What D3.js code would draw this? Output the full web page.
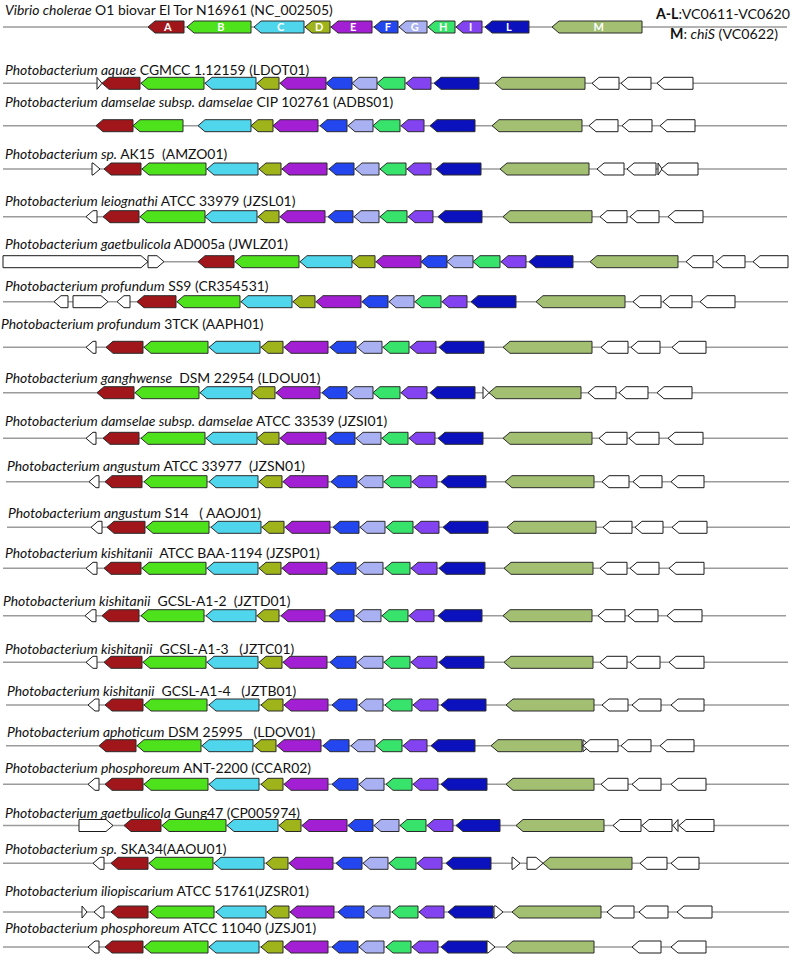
<!DOCTYPE html>
<html><head><meta charset="utf-8">
<script src="https://cdn.jsdelivr.net/npm/d3@7"></script>
<style>body{margin:0;background:#fff} svg{display:block}</style>
</head><body><svg id="c" width="792" height="966"></svg>
<script>
// ---------- DATA ----------
const geneKeys   = ["A","B","C","D","E","F","G","H","I","L","M","w"];
const geneColors = ["#a0161a","#4ee21c","#4fd6ec","#9fb31a","#a21fd3","#2346ef","#a9b1f2","#37e36a","#8443f1","#0b12bd","#a2bf72","#ffffff"];

const italicNames = [
 "Vibrio cholerae","Photobacterium aquae","Photobacterium damselae subsp. damselae","Photobacterium sp.",
 "Photobacterium leiognathi","Photobacterium gaetbulicola","Photobacterium profundum","Photobacterium profundum",
 "Photobacterium ganghwense","Photobacterium damselae subsp. damselae","Photobacterium angustum","Photobacterium angustum",
 "Photobacterium kishitanii","Photobacterium kishitanii","Photobacterium kishitanii","Photobacterium kishitanii",
 "Photobacterium aphoticum","Photobacterium phosphoreum","Photobacterium gaetbulicola","Photobacterium sp.",
 "Photobacterium iliopiscarium","Photobacterium phosphoreum"];
const strainNames = [
 " O1 biovar El Tor N16961 (NC_002505)"," CGMCC 1.12159 (LDOT01)"," CIP 102761 (ADBS01)"," AK15  (AMZO01)",
 " ATCC 33979 (JZSL01)"," AD005a (JWLZ01)"," SS9 (CR354531)"," 3TCK (AAPH01)",
 "  DSM 22954 (LDOU01)"," ATCC 33539 (JZSI01)"," ATCC 33977  (JZSN01)"," S14   ( AAOJ01)",
 "  ATCC BAA-1194 (JZSP01)","  GCSL-A1-2  (JZTD01)","  GCSL-A1-3   (JZTC01)","  GCSL-A1-4   (JZTB01)",
 " DSM 25995   (LDOV01)"," ANT-2200 (CCAR02)"," Gung47 (CP005974)"," SKA34(AAOU01)",
 " ATCC 51761(JZSR01)"," ATCC 11040 (JZSJ01)"];

// contig extents per row [start, end]
const spans = [[3,787],[3,787],[3,787],[3,787],[3,787],[3,788],[3,788],[3,788],[3,788],[3,788],[6,789],
               [7,790],[3,788],[3,786],[3,788],[6,789],[6,789],[3,789],[3,789],[3,789],[3,789],[3,789]];

// genes: [key, start, end, strand]
const gVibrio = [["A",148,184,"<"],["B",187,251,"<"],["C",254,304,"<"],["D",305,330,"<"],["E",331,372,"<"],["F",374,398,"<"],["G",399,427,"<"],["H",428,455,"<"],["I",456,482,"<"],["L",485,529,"<"],["M",552,642,"<"]];
const gAquae = [["w",97,102,">"],["A",102,140,"<"],["B",141,204,"<"],["C",205,256,"<"],["D",257,279,"<"],["E",280,326,"<"],["F",326,352,"<"],["G",352,377,"<"],["H",377,405,"<"],["I",406,431,"<"],["L",434,479,"<"],["M",495,585,"<"],["w",592,619,"<"],["w",621,651,"<"],["w",657,693,"<"]];
const gDamselaeCIP = [["A",96,133,"<"],["B",133,183,"<"],["C",198,251,"<"],["D",251,273,"<"],["E",273,318,"<"],["F",320,347,"<"],["G",348,373,"<"],["H",373,400,"<"],["I",401,424,"<"],["L",430,475,"<"],["M",492,582,"<"],["w",589,618,"<"],["w",622,652,"<"],["w",660,695,"<"]];
const gAK15 = [["w",92,100,">"],["A",104,141,"<"],["B",142,206,"<"],["C",207,258,"<"],["D",259,281,"<"],["E",282,327,"<"],["F",329,354,"<"],["G",355,379,"<"],["H",380,406,"<"],["I",407,431,"<"],["L",436,481,"<"],["M",500,589,"<"],["w",597,624,"<"],["w",627,656,"<"],["w",658,662,">"],["w",661,698,"<"]];
const gLeiognathi = [["w",86,97,"<"],["A",103,139,"<"],["B",140,205,"<"],["C",205,257,"<"],["D",258,279,"<"],["E",280,325,"<"],["F",328,353,"<"],["G",354,379,"<"],["H",380,407,"<"],["I",408,433,"<"],["L",438,482,"<"],["M",503,592,"<"],["w",600,627,"<"],["w",630,659,"<"],["w",668,703,"<"]];
const gGaetAD005a = [["w",3,148,">"],["w",148,164,">"],["A",198,234,"<"],["B",235,299,"<"],["C",300,352,"<"],["D",352,375,"<"],["E",376,421,"<"],["F",421,447,"<"],["G",447,473,"<"],["H",473,500,"<"],["I",501,526,"<"],["L",529,573,"<"],["M",590,678,"<"],["w",686,713,"<"],["w",716,745,"<"],["w",753,788,"<"]];
const gSS9 = [["w",54,68,"<"],["w",73,108,">"],["w",117,130,"<"],["A",137,176,"<"],["B",177,240,"<"],["C",241,292,"<"],["D",293,315,"<"],["E",316,361,"<"],["F",362,388,"<"],["G",389,414,"<"],["H",415,441,"<"],["I",442,467,"<"],["L",471,516,"<"],["M",536,625,"<"],["w",633,661,"<"],["w",663,692,"<"],["w",700,735,"<"]];
const g3TCK = [["w",86,96,"<"],["A",106,143,"<"],["B",144,208,"<"],["C",209,260,"<"],["D",261,283,"<"],["E",284,328,"<"],["F",330,356,"<"],["G",357,382,"<"],["H",383,409,"<"],["I",410,436,"<"],["L",439,484,"<"],["M",503,592,"<"],["w",601,628,"<"],["w",631,660,"<"],["w",672,706,"<"]];
const gGanghwense = [["A",97,134,"<"],["B",135,199,"<"],["C",200,252,"<"],["D",252,275,"<"],["E",276,320,"<"],["F",322,347,"<"],["G",348,373,"<"],["H",373,400,"<"],["I",401,427,"<"],["L",430,475,"<"],["w",483,489,">"],["M",489,581,"<"],["w",588,616,"<"],["w",619,648,"<"],["w",657,692,"<"]];
const gDamselaeATCC = [["w",86,96,"<"],["A",103,139,"<"],["B",141,205,"<"],["C",206,257,"<"],["D",257,279,"<"],["E",280,326,"<"],["F",328,355,"<"],["G",356,381,"<"],["H",382,408,"<"],["I",409,435,"<"],["L",438,483,"<"],["M",503,592,"<"],["w",599,627,"<"],["w",629,659,"<"],["w",668,703,"<"]];
const gAngustumATCC = [["w",89,99,"<"],["A",105,142,"<"],["B",144,207,"<"],["C",209,258,"<"],["D",259,282,"<"],["E",283,328,"<"],["F",331,357,"<"],["G",358,383,"<"],["H",384,411,"<"],["I",412,437,"<"],["L",441,486,"<"],["M",505,594,"<"],["w",602,629,"<"],["w",633,662,"<"],["w",671,704,"<"]];
const gS14 = [["w",91,102,"<"],["A",107,145,"<"],["B",146,209,"<"],["C",211,261,"<"],["D",262,284,"<"],["E",285,330,"<"],["F",333,359,"<"],["G",360,385,"<"],["H",386,413,"<"],["I",414,439,"<"],["L",443,488,"<"],["M",507,596,"<"],["w",603,632,"<"],["w",635,663,"<"],["w",672,707,"<"]];
const gBAA1194 = [["w",86,97,"<"],["A",104,141,"<"],["B",142,206,"<"],["C",207,258,"<"],["D",259,281,"<"],["E",282,327,"<"],["F",330,356,"<"],["G",357,383,"<"],["H",385,410,"<"],["I",411,437,"<"],["L",439,485,"<"],["M",504,593,"<"],["w",600,627,"<"],["w",630,659,"<"],["w",669,704,"<"]];
const gA12 = [["w",85,96,"<"],["A",102,139,"<"],["B",141,204,"<"],["C",206,256,"<"],["D",257,279,"<"],["E",281,325,"<"],["F",329,354,"<"],["G",356,381,"<"],["H",382,408,"<"],["I",409,434,"<"],["L",438,482,"<"],["M",503,592,"<"],["w",598,625,"<"],["w",628,658,"<"],["w",667,702,"<"]];
const gA13 = [["w",86,97,"<"],["A",104,142,"<"],["B",143,206,"<"],["C",207,258,"<"],["D",259,282,"<"],["E",283,327,"<"],["F",330,356,"<"],["G",357,383,"<"],["H",384,410,"<"],["I",411,437,"<"],["L",439,484,"<"],["M",504,593,"<"],["w",600,627,"<"],["w",630,660,"<"],["w",669,704,"<"]];
const gA14 = [["w",88,99,"<"],["A",105,143,"<"],["B",144,207,"<"],["C",209,259,"<"],["D",261,283,"<"],["E",284,328,"<"],["F",332,357,"<"],["G",359,383,"<"],["H",385,412,"<"],["I",413,438,"<"],["L",441,486,"<"],["M",506,594,"<"],["w",602,628,"<"],["w",632,661,"<"],["w",671,704,"<"]];
const gAphoticum = [["A",99,136,"<"],["B",137,201,"<"],["C",202,253,"<"],["D",254,276,"<"],["E",277,321,"<"],["F",323,349,"<"],["G",351,375,"<"],["H",376,402,"<"],["I",403,427,"<"],["L",431,475,"<"],["M",491,582,"<"],["w",583,590,">"],["w",583,618,"<"],["w",621,651,"<"],["w",660,694,"<"]];
const gANT2200 = [["w",88,99,"<"],["A",105,143,"<"],["B",144,208,"<"],["C",209,259,"<"],["D",261,283,"<"],["E",284,328,"<"],["F",332,358,"<"],["G",359,384,"<"],["H",386,412,"<"],["I",413,438,"<"],["L",441,487,"<"],["M",506,594,"<"],["w",601,628,"<"],["w",632,661,"<"],["w",671,706,"<"]];
const gGung47 = [["w",79,113,">"],["A",124,161,"<"],["B",162,226,"<"],["C",227,278,"<"],["D",279,301,"<"],["E",302,347,"<"],["F",348,373,"<"],["G",374,399,"<"],["H",400,426,"<"],["I",427,453,"<"],["L",456,500,"<"],["M",516,604,"<"],["w",613,641,"<"],["w",642,672,"<"],["w",673,678,"<"],["w",679,714,"<"]];
const gSKA34 = [["w",93,104,"<"],["A",111,148,"<"],["B",149,213,"<"],["C",214,264,"<"],["D",266,288,"<"],["E",289,333,"<"],["F",336,362,"<"],["G",363,388,"<"],["H",389,416,"<"],["I",417,442,"<"],["L",446,491,"<"],["w",512,520,">"],["w",527,543,">"],["M",543,632,"<"],["w",640,667,"<"],["w",671,699,"<"]];
const gIliopiscarium = [["w",82,87,">"],["w",94,104,"<"],["A",111,148,"<"],["B",150,214,"<"],["C",216,266,"<"],["D",267,289,"<"],["E",290,334,"<"],["F",338,364,"<"],["G",366,390,"<"],["H",392,418,"<"],["I",419,444,"<"],["L",448,493,"<"],["w",494,503,">"],["M",512,601,"<"],["w",607,634,"<"],["w",639,668,"<"],["w",677,712,"<"]];
const gATCC11040 = [["w",88,99,"<"],["A",105,143,"<"],["B",144,208,"<"],["C",209,259,"<"],["D",261,283,"<"],["E",284,328,"<"],["F",332,358,"<"],["G",359,384,"<"],["H",386,411,"<"],["I",412,438,"<"],["L",441,487,"<"],["w",487,495,">"],["M",506,594,"<"],["w",632,661,"<"],["w",671,706,"<"]];

const rowGenes = [gVibrio,gAquae,gDamselaeCIP,gAK15,gLeiognathi,gGaetAD005a,gSS9,g3TCK,gGanghwense,gDamselaeATCC,
  gAngustumATCC,gS14,gBAA1194,gA12,gA13,gA14,gAphoticum,gANT2200,gGung47,gSKA34,gIliopiscarium,gATCC11040];

// ---------- LAYOUT ----------
const lineY  = [27,83.3,125.7,169,216.7,261.7,301.7,347.3,392.7,438.3,481.7,527.3,568.3,615.7,662.3,705,745.7,784.3,825.5,863.3,912,947];
const labelY = [15,75,107,159,205.7,249,291,329,382.7,425.7,470.7,517.7,557.7,605.7,654,695.7,737.3,773.3,817.7,854.3,896,933];
const labelX = [5,5,5,5,5,5,5,1,5,5,7,8,5,3,5,7,7,5,5,5,5,5];

const W = 792;
const svg = d3.select("#c");
const x = d3.scaleLinear().domain([0, 792]).range([0, W]);
const color = d3.scaleOrdinal().domain(geneKeys).range(geneColors);
const FONT = "Lato, 'Open Sans', sans-serif";
const half = 6, headLen = 7;

function arrowPath(d, y) {
  const x0 = x(d[1]), x1 = x(d[2]);
  const h = Math.min(headLen, x1 - x0);
  const p = d3.path();
  if (d[3] === "<") {
    p.moveTo(x0, y); p.lineTo(x0 + h, y - half); p.lineTo(x1, y - half);
    p.lineTo(x1, y + half); p.lineTo(x0 + h, y + half); p.closePath();
  } else {
    p.moveTo(x1, y); p.lineTo(x1 - h, y - half); p.lineTo(x0, y - half);
    p.lineTo(x0, y + half); p.lineTo(x1 - h, y + half); p.closePath();
  }
  return p.toString();
}

// labels
const labels = svg.append("g").attr("font-family", FONT).attr("fill", "#111");
const labelNodes = [];
italicNames.forEach((nm, i) => {
  const t = labels.append("text").attr("x", labelX[i]).attr("y", labelY[i])
    .attr("font-size", 13).style("white-space", "pre");
  t.append("tspan").attr("font-style", "italic").text(nm);
  t.append("tspan").text(strainNames[i]);
  labelNodes.push(t);
});
// fit font size so that the first label is ~328px wide
const w0 = labelNodes[0].node().getComputedTextLength();
const fs = 13 * 328 / w0;
labelNodes.forEach(t => t.attr("font-size", fs));

// rows
rowGenes.forEach((genes, i) => {
  const g = svg.append("g");
  const y = lineY[i];
  g.append("line").attr("x1", x(spans[i][0])).attr("x2", x(spans[i][1]))
    .attr("y1", y).attr("y2", y).attr("stroke", "#9b9b9b").attr("stroke-width", 1.5);
  g.selectAll("path").data(genes).join("path")
    .attr("d", d => arrowPath(d, y))
    .attr("fill", d => color(d[0]))
    .attr("stroke", d => d[0] === "w" ? "#1a1a1a" : "#2a2a2a")
    .attr("stroke-width", 1)
    .attr("stroke-linejoin", "miter");
  if (i === 0) {
    g.selectAll("text").data(genes).join("text")
      .attr("x", d => (x(d[1]) + x(d[2])) / 2 + headLen / 4)
      .attr("y", y + 4)
      .attr("text-anchor", "middle")
      .attr("font-family", FONT).attr("font-weight", "bold").attr("font-size", 11)
      .attr("fill", "#ffffff")
      .text(d => d[0]);
  }
});

// legend top-right
const lg = svg.append("g").attr("font-family", FONT).attr("fill", "#111").attr("font-size", fs * 1.02);
const l1 = lg.append("text").attr("x", 790).attr("y", 19).attr("text-anchor", "end");
l1.append("tspan").attr("font-weight", "bold").text("A-L");
l1.append("tspan").text(":VC0611-VC0620");
const l2 = lg.append("text").attr("x", 778).attr("y", 39).attr("text-anchor", "end").style("white-space", "pre");
l2.append("tspan").attr("font-weight", "bold").text("M");
l2.append("tspan").text(": ");
l2.append("tspan").attr("font-style", "italic").text("chiS");
l2.append("tspan").text(" (VC0622)");
</script>
</body></html>
